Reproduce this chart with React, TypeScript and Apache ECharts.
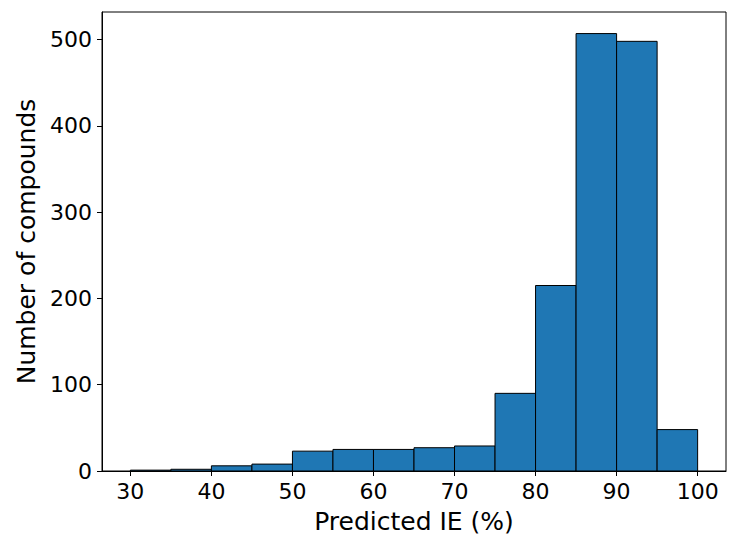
import React, { useEffect, useRef } from "react";
import * as echarts from "echarts";

const binStarts = [30, 35, 40, 45, 50, 55, 60, 65, 70, 75, 80, 85, 90, 95];
const binWidth = 5;
const counts = [1, 2, 6, 8, 23, 25, 25, 27, 29, 90, 215, 507, 498, 48];
const xTicks = [30, 40, 50, 60, 70, 80, 90, 100];
const yTicks = [0, 100, 200, 300, 400, 500];

export default function App() {
  const ref = useRef<HTMLDivElement>(null);
  useEffect(() => {
    if (!ref.current) return;
    const chart = echarts.init(ref.current, null, { renderer: "svg" });
    const data = binStarts.map((s, i) => [s, s + binWidth, counts[i]]);
    const font = "DejaVu Sans";
    chart.setOption({
      animation: false,
      grid: {
        left: 102,
        top: 12,
        width: 624,
        height: 462,
        show: true,
        borderColor: "#000",
        borderWidth: 1,
        backgroundColor: "transparent",
      },
      xAxis: {
        type: "value",
        min: 26.5,
        max: 103.5,
        splitLine: { show: false },
        axisLine: { show: true, lineStyle: { color: "#000", width: 1 } },
        axisTick: { show: true, length: 5, inside: false, customValues: xTicks, lineStyle: { color: "#000" } },
        axisLabel: { customValues: xTicks, color: "#000", fontSize: 22, fontFamily: font, margin: 9 },
        name: "Predicted IE (%)",
        nameLocation: "middle",
        nameGap: 38,
        nameTextStyle: { color: "#000", fontSize: 25, fontFamily: font },
      },
      yAxis: {
        type: "value",
        min: 0,
        max: 532,
        splitLine: { show: false },
        axisLine: { show: true, lineStyle: { color: "#000", width: 1 } },
        axisTick: { show: true, length: 5, inside: false, customValues: yTicks, lineStyle: { color: "#000" } },
        axisLabel: { customValues: yTicks, color: "#000", fontSize: 22, fontFamily: font, margin: 10 },
        name: "Number of compounds",
        nameLocation: "middle",
        nameGap: 60,
        nameTextStyle: { color: "#000", fontSize: 25, fontFamily: font },
      },
      series: [
        {
          type: "custom",
          data,
          encode: { x: [0, 1], y: 2 },
          renderItem: (params: any, api: any) => {
            const p0 = api.coord([api.value(0), api.value(2)]);
            const p1 = api.coord([api.value(1), 0]);
            return {
              type: "rect",
              shape: { x: p0[0], y: p0[1], width: p1[0] - p0[0], height: p1[1] - p0[1] },
              style: { fill: "#1f77b4", stroke: "#000", lineWidth: 1 },
            };
          },
        },
      ],
    });
    return () => chart.dispose();
  }, []);
  return (
    <div
      ref={ref}
      style={{ position: "absolute", left: 0, top: 0, width: 729, height: 539 }}
    />
  );
}
